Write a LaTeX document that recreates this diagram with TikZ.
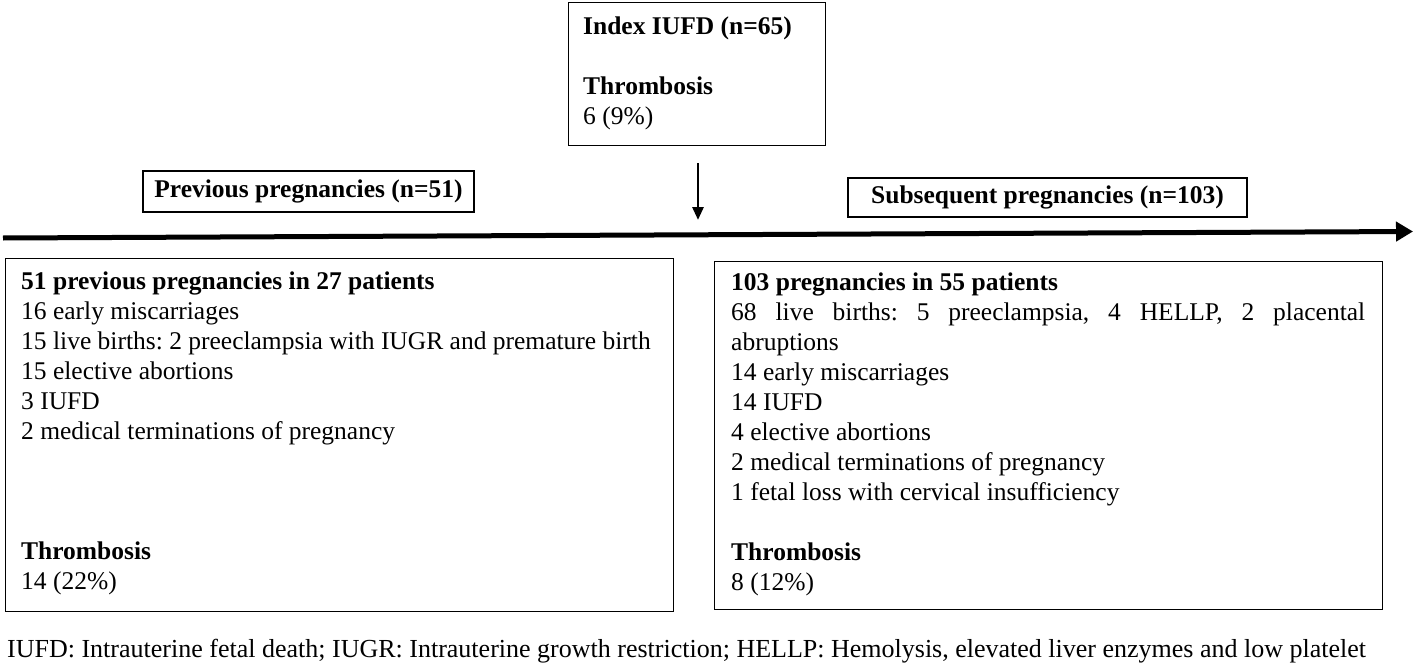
\documentclass[tikz,border=0pt]{standalone}
\usepackage{fontspec}
\setmainfont{Liberation Serif}
\usetikzlibrary{arrows.meta,positioning}
\frenchspacing

\begin{document}
\begin{tikzpicture}[
    x=1pt, y=-1pt,
    every node/.style={inner sep=0pt,font=\fontsize{25.5}{30}\selectfont},
    frame/.style={draw,line width=1.3pt,anchor=north west},
    head/.style={draw,line width=1.3pt,font=\fontsize{25.5}{30}\selectfont\bfseries},
    body/.style={anchor=base west,align=flush left},
    timeline/.style={line width=5pt,-{Triangle[length=17pt,width=19pt]}},
    drop/.style={line width=2.8pt,-{Triangle[length=13pt,width=11pt]}}
]
\useasboundingbox (0,0) rectangle (1418,666);

\node[frame,minimum width=257pt,minimum height=143pt] (index) at (568,2) {};
\node[body,text width=240pt] (indextext) at ([shift={(15,33)}]index.north west)
    {\textbf{Index IUFD (n=65)}\\[30pt]\textbf{Thrombosis}\\6 (9\%)};

\node[head,minimum width=331pt,minimum height=41pt] (prevhead) at (308.5,191.5) {Previous pregnancies (n=51)};
\node[head,minimum width=399pt,minimum height=39pt] (nexthead) at (1047.5,197.5) {Subsequent pregnancies (n=103)};

\coordinate (drop) at (698,163);
\coordinate (mark) at (698,220);
\draw[drop] (drop) -- (mark);

\coordinate (tstart) at (3,238);
\coordinate (tend) at (1413,231.5);
\draw[timeline] (tstart) -- (tend);

\node[frame,minimum width=668pt,minimum height=353pt] (prevbox) at (5,258) {};
\node[body,text width=660pt] (prevtext) at ([shift={(16,31)}]prevbox.north west)
    {\textbf{51 previous pregnancies in 27 patients}\\16 early miscarriages\\15 live births: 2 preeclampsia with IUGR and premature birth\\15 elective abortions\\3 IUFD\\2 medical terminations of pregnancy\\[90pt]\textbf{Thrombosis}\\14 (22\%)};

\node[frame,minimum width=668pt,minimum height=348pt] (nextbox) at (714,261) {};
\node[body,text width=634pt,align=justify] (nexttext) at ([shift={(17,29)}]nextbox.north west)
    {\textbf{103 pregnancies in 55 patients}\\68 live births: 5 preeclampsia, 4 HELLP, 2 placental\linebreak abruptions\\14 early miscarriages\\14 IUFD\\4 elective abortions\\2 medical terminations of pregnancy\\1 fetal loss with cervical insufficiency\\[30pt]\textbf{Thrombosis}\\8 (12\%)};

\node[anchor=base west,font=\fontsize{26}{30}\selectfont] (note) at (7,657)
    {IUFD: Intrauterine fetal death; IUGR: Intrauterine growth restriction; HELLP: Hemolysis, elevated liver enzymes and low platelet};
\end{tikzpicture}
\end{document}
